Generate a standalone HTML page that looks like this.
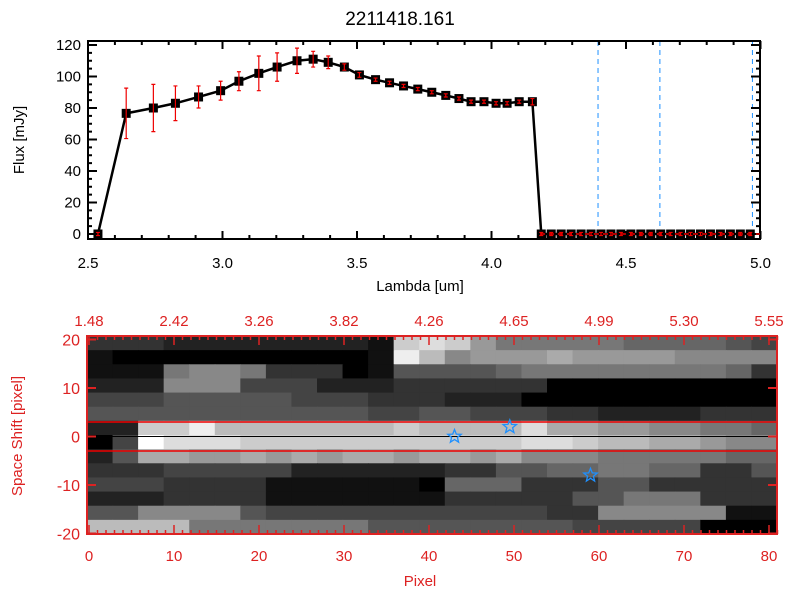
<!DOCTYPE html>
<html><head><meta charset="utf-8"><style>
body{margin:0;background:#fff;width:800px;height:600px;overflow:hidden}
svg{display:block;font-family:"Liberation Sans",sans-serif}
</style></head><body>
<svg id="c" width="800" height="600" xmlns="http://www.w3.org/2000/svg">
<text x="400" y="25" font-size="19" text-anchor="middle">2211418.161</text>
<g id="top"></g>
<g id="bot"></g>
</svg>
<script>
const lambdas=[2.537,2.642,2.743,2.825,2.911,2.993,3.061,3.135,3.203,3.277,3.337,3.393,3.453,3.509,3.569,3.621,3.673,3.726,3.778,3.830,3.879,3.924,3.972,4.017,4.058,4.103,4.152,4.185,4.222,4.259,4.296,4.333,4.370,4.407,4.444,4.481,4.518,4.555,4.592,4.629,4.666,4.703,4.740,4.777,4.814,4.851,4.888,4.925,4.962];
const flux=[0,76.6,80,83,87,91,97,102,106,110,111,109,106,101,98,96,94,92,90,88,86,84,84,83,83,84,84,0,0,0,0,0,0,0,0,0,0,0,0,0,0,0,0,0,0,0,0,0,0];
const fluxErr=[1,16,15,11,7,6,6,11,9,8,5,4,2,1.5,1,1,1,1,1,1,1,1,1,1,1,1,2,1,1,1,1,1,1,1,1,1,1,1,1,1,1,1,1,1,1,1,1,1,1];
const xTicks=[2.5,3.0,3.5,4.0,4.5,5.0];
const xTickLabels=["2.5","3.0","3.5","4.0","4.5","5.0"];
const yTicks=[0,20,40,60,80,100,120];
const dashLines=[4.396,4.626,4.97];
const dashColors=["#1e90ff","#1e90ff","#1e90ff"];
const pixTicks=[0,10,20,30,40,50,60,70,80];
const waveLabels=["1.48","2.42","3.26","3.82","4.26","4.65","4.99","5.30","5.55"];
const shiftTicks=[20,10,0,-10,-20];
const starX=[43,49.5,59];
const starY=[0,2,-8];
const bandLines=[3,-3];
const heat=[
"333222222221cdc9777776666543",
"100000000001eb8999a999988884",
"111788733301555567777777763",
"222888444222333333000000000",
"444555554443332220000000000",
"555555555554455444332222333",
"22ccebbbbbbbcbbbbdaa9988776",
"04fdddcccccccccccddcbbaa988",
"25aa99a9a9aa9aa9a8887777766",
"333444442222223355667766335",
"444333311111106663335533333",
"222333311111113333355777333",
"558888544444444444338888811",
"bbbb7777777555555554444400"];
const NS="http://www.w3.org/2000/svg";
function el(p,t,a){const e=document.createElementNS(NS,t);for(const k in a)e.setAttribute(k,a[k]);p.appendChild(e);return e;}
const gTop=document.getElementById('top'),gBot=document.getElementById('bot');
const X=v=>88+(v-2.5)*269, Y=v=>234-v*1.575;
const R=760;
let e;
for(let i=0;i<dashLines.length;i++){e=el(gTop,'line',{x1:X(dashLines[i]),x2:X(dashLines[i]),y1:41,y2:239,stroke:dashColors[i],'stroke-width':1,'stroke-dasharray':'5,4'});

}
e=el(gTop,'rect',{x:88,y:41,width:R-88,height:198,fill:'none',stroke:'#000','stroke-width':2});


for(let v=2.5;v<=5.0001;v+=0.1){const x=X(v),maj=Math.abs(v*2-Math.round(v*2))<1e-6;const L=maj?8:4;
el(gTop,'line',{x1:x,x2:x,y1:239,y2:239-L,stroke:'#000','stroke-width':2});el(gTop,'line',{x1:x,x2:x,y1:41,y2:41+L,stroke:'#000','stroke-width':2});}
xTicks.forEach((v,i)=>{e=el(gTop,'text',{x:X(v),y:268,'font-size':15,'text-anchor':'middle'});e.textContent=xTickLabels[i];

});
for(let v=0;v<=122;v+=5){const y=Y(v),maj=v%20==0,L=maj?9:4;el(gTop,'line',{x1:88,x2:88+L,y1:y,y2:y,stroke:'#000','stroke-width':2});el(gTop,'line',{x1:R,x2:R-L,y1:y,y2:y,stroke:'#000','stroke-width':2});}
yTicks.forEach(v=>{e=el(gTop,'text',{x:81,y:Y(v)+5,'font-size':15,'text-anchor':'end'});e.textContent=v;

});
e=el(gTop,'text',{x:420,y:291,'font-size':15,'text-anchor':'middle'});e.textContent='Lambda [um]';


e=el(gTop,'text',{x:24,y:140,'font-size':15,'text-anchor':'middle',transform:'rotate(-90 24 140)'});e.textContent='Flux [mJy]';


e=el(gTop,'polyline',{points:lambdas.map((l,i)=>X(l)+','+Y(flux[i])).join(' '),fill:'none',stroke:'#000','stroke-width':2.5});


lambdas.forEach((l,i)=>{const x=X(l),y=Y(flux[i]);
e=el(gTop,'rect',{x:x-4.5,y:y-4.5,width:9,height:9,fill:'#000'});


const y1=Y(flux[i]+fluxErr[i]),y2=Y(flux[i]-fluxErr[i]);
e=el(gTop,'path',{d:`M${x},${y1}V${y2}M${x-2},${y1}h4M${x-2},${y2}h4`,stroke:'#e00','stroke-width':1.2,fill:'none'});

});
e=el(gTop,'line',{x1:X(4.18),x2:R,y1:Y(0),y2:Y(0),stroke:'#e00',"stroke-width":1.5,'stroke-dasharray':'5,4'});


const PX=p=>89+p*8.5, SY=s=>436.5-s*4.85;
const rows=heat.length,cw=690/27,rh=(534-336)/rows;
heat.forEach((r,ri)=>{for(let ci=0;ci<27;ci++){const v=parseInt(r[ci]||'0',16);const g=Math.round(v*17);
e=el(gBot,'rect',{x:87+ci*cw,y:336+ri*rh,width:cw+0.6,height:rh+0.6,fill:`rgb(${g},${g},${g})`});

}});
e=el(gBot,'line',{x1:87,x2:777,y1:SY(0),y2:SY(0),stroke:'#000','stroke-width':1});


bandLines.forEach(s=>{e=el(gBot,'line',{x1:87,x2:777,y1:SY(s),y2:SY(s),stroke:'#e00','stroke-width':1.5});

});
starX.forEach((p,i)=>{const cx=PX(p),cy=SY(starY[i]);let pts=[];for(let k=0;k<10;k++){const a=-Math.PI/2+k*Math.PI/5,r=k%2?3:7;pts.push((cx+r*Math.cos(a)).toFixed(1)+','+(cy+r*Math.sin(a)).toFixed(1));}
e=el(gBot,'polygon',{points:pts.join(' '),fill:'none',stroke:'#1e90ff','stroke-width':1.3});

});
e=el(gBot,'rect',{x:87,y:336,width:690,height:198,fill:'none',stroke:'#d22','stroke-width':2});


for(let p=0;p<=81;p++){const x=PX(p),L=p%10==0?9:4;el(gBot,'line',{x1:x,x2:x,y1:534,y2:534-L,stroke:'#d22','stroke-width':1.5});el(gBot,'line',{x1:x,x2:x,y1:336,y2:336+L,stroke:'#d22','stroke-width':1.5});}
pixTicks.forEach((p,i)=>{e=el(gBot,'text',{x:PX(p),y:561,'font-size':15,fill:'#d22','text-anchor':'middle'});e.textContent=p;


e=el(gBot,'text',{x:PX(p),y:326,'font-size':15,fill:'#d22','text-anchor':'middle'});e.textContent=waveLabels[i];

});
shiftTicks.forEach(s=>{const y=SY(s);el(gBot,'line',{x1:87,x2:96,y1:y,y2:y,stroke:'#d22','stroke-width':2});el(gBot,'line',{x1:777,x2:768,y1:y,y2:y,stroke:'#d22','stroke-width':2});
e=el(gBot,'text',{x:80,y:y+6,'font-size':16,fill:'#d22','text-anchor':'end'});e.textContent=s;

});
e=el(gBot,'text',{x:420,y:586,'font-size':15,fill:'#d22','text-anchor':'middle'});e.textContent='Pixel';


e=el(gBot,'text',{x:22,y:436,'font-size':15,fill:'#d22','text-anchor':'middle',transform:'rotate(-90 22 436)'});e.textContent='Space Shift [pixel]';


</script>
</body></html>
